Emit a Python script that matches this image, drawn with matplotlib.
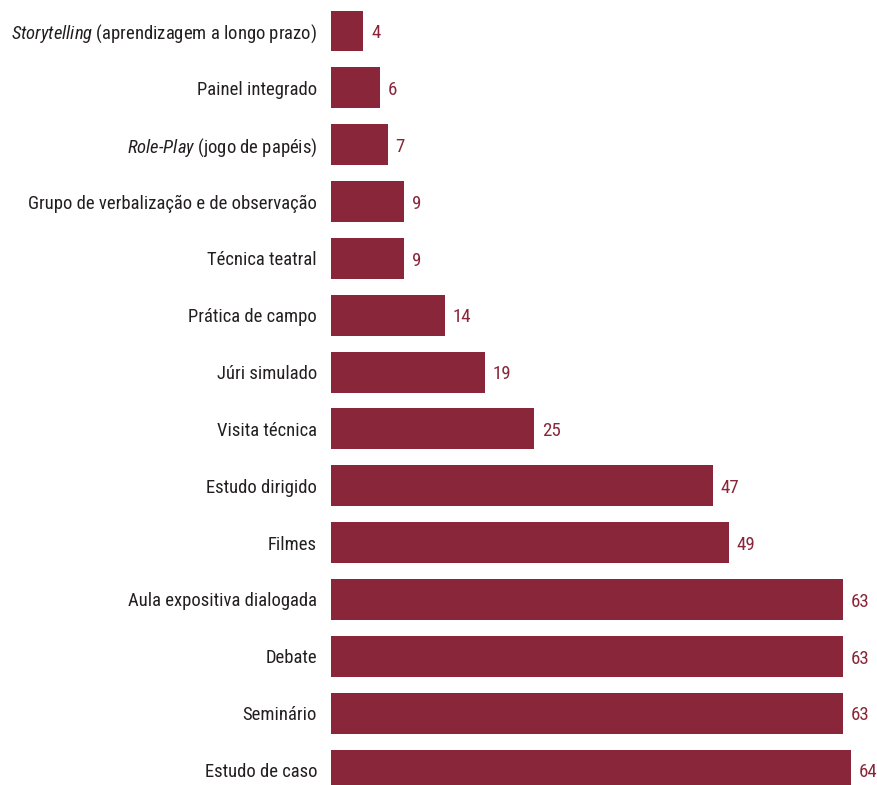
import matplotlib
matplotlib.use('Agg')
import matplotlib.pyplot as plt
from matplotlib import font_manager

# categorias (de cima para baixo) e valores
categorias = [
    r'$\it{Storytelling}$ (aprendizagem a longo prazo)',
    'Painel integrado',
    r'$\it{Role\text{-}Play}$ (jogo de papéis)',
    'Grupo de verbalização e de observação',
    'Técnica teatral',
    'Prática de campo',
    'Júri simulado',
    'Visita técnica',
    'Estudo dirigido',
    'Filmes',
    'Aula expositiva dialogada',
    'Debate',
    'Seminário',
    'Estudo de caso',
]
valores = [4, 6, 7, 9, 9, 14, 19, 25, 47, 49, 63, 63, 63, 64]

# procura uma fonte estreita parecida com a original
fontes = font_manager.fontManager.ttflist
nomes = {f.name for f in fontes}
fonte, estica = 'DejaVu Sans', 'normal'
for n in ['Roboto Condensed', 'Liberation Sans Narrow', 'Open Sans Condensed',
          'Noto Sans Condensed', 'DejaVu Sans Condensed']:
    if n in nomes:
        fonte = n
        break
else:
    cond = [f for f in fontes if f.stretch in ('condensed', 'semi-condensed', 'extra-condensed')
            or 'Condensed' in f.fname or 'Narrow' in f.fname]
    if cond:
        fonte, estica = cond[0].name, cond[0].stretch
    elif 'Roboto' in nomes:
        fonte = 'Roboto'

plt.rcParams['font.family'] = [fonte, 'DejaVu Sans']
plt.rcParams['font.stretch'] = estica
plt.rcParams['mathtext.fontset'] = 'custom'
plt.rcParams['mathtext.it'] = fonte + ':italic'
plt.rcParams['mathtext.rm'] = fonte

cor = '#8a2639'
cor_texto = '#231f20'

fig = plt.figure(figsize=(8.78, 7.85), dpi=100)
ax = fig.add_axes([331 / 878, 0, 1 - 331 / 878 - 11 / 878, 1])

# tamanho da fonte: a maior legenda deve caber em ~306 px
tam = 15.0
r = fig.canvas.get_renderer()
maior = 0
for c in categorias:
    t = fig.text(0, 0, c, fontsize=tam)
    maior = max(maior, t.get_window_extent(r).width)
    t.remove()
if maior > 306:
    tam = tam * 306 / maior

pos = list(range(len(categorias)))
ax.barh(pos, valores, height=0.72, color=cor)
for p, v in zip(pos, valores):
    ax.text(v + 0.95, p + 0.04, str(v), va='center', ha='left', color=cor, fontsize=tam + 0.3)

ax.set_yticks(pos)
ax.set_yticklabels(categorias, fontsize=tam, color=cor_texto)
ax.tick_params(axis='y', length=0, pad=10)
ax.set_xticks([])
ax.set_xlim(0, 66)
ax.set_ylim(13.264, -0.545)
for s in ax.spines.values():
    s.set_visible(False)

fig.savefig('out.png', dpi=100)
